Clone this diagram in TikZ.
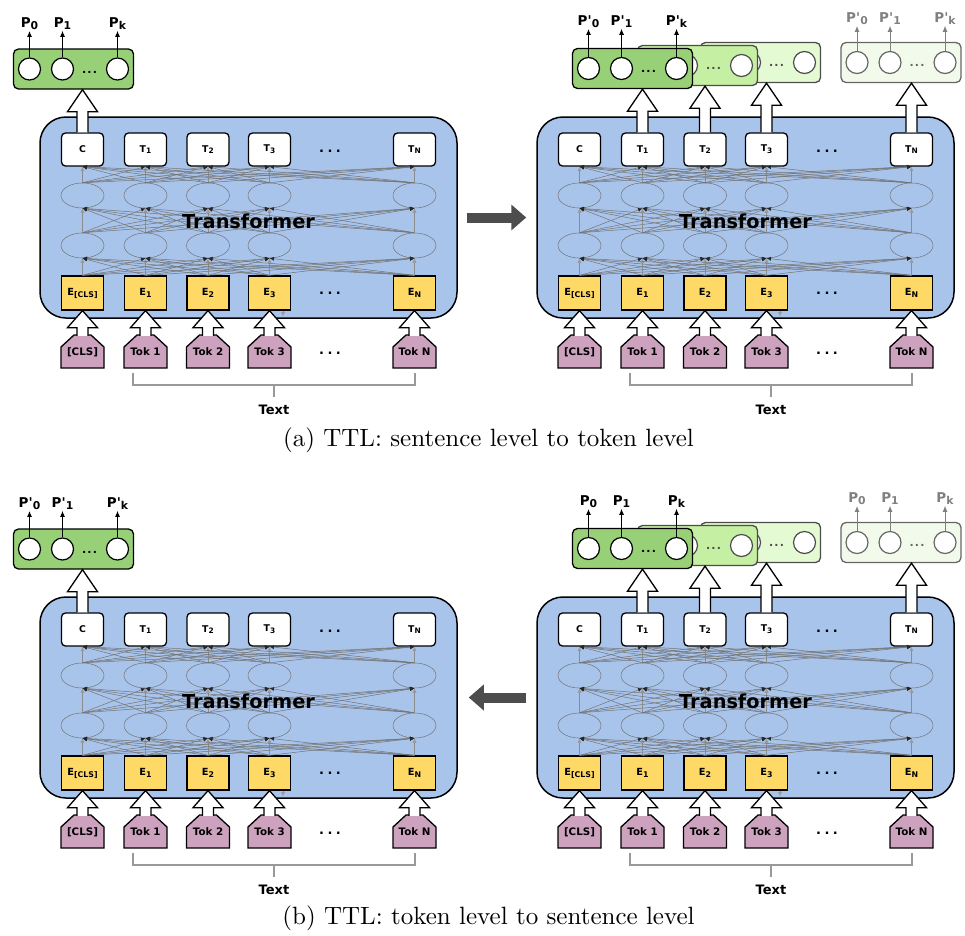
\documentclass[tikz,border=0pt]{standalone}
\usepackage{fontspec}
\usepackage{graphicx}
\usetikzlibrary{arrows.meta,shapes.geometric,calc}
\newfontfamily\dvb{DejaVu Sans Bold}
\newfontfamily\lmten{lmroman10-regular.otf}
\definecolor{tblue}{HTML}{A9C4EB}
\definecolor{tyel}{HTML}{FFD966}
\definecolor{tpink}{HTML}{CDA2BE}
\definecolor{gA}{HTML}{97D077}
\definecolor{gB}{HTML}{C5EFA3}
\definecolor{gC}{HTML}{E4FAD3}
\definecolor{gD}{HTML}{F2FBEB}
\definecolor{darr}{HTML}{4D4D4D}
\newcommand\sbx[1]{\raisebox{-0.35ex}{\scalebox{0.8}{#1}}}
\newcommand\rdot{.\hspace{3.5pt}.\hspace{3.5pt}.}
\newcommand\odts{.\hspace{1.2pt}.\hspace{1.2pt}.}
\tikzset{
 tbox/.style={draw=black, line width=1.5pt, fill=tblue, rounded corners=26pt, minimum width=417pt, minimum height=201pt, inner sep=0pt},
 tnode/.style={draw, line width=1.3pt, fill=white, rounded corners=4pt, minimum width=42pt, minimum height=33pt, inner sep=0pt, font=\dvb\fontsize{9.3}{10}\selectfont},
 enode/.style={draw, line width=1.3pt, fill=tyel, minimum width=42pt, minimum height=34pt, inner sep=0pt, font=\dvb\fontsize{9.8}{10}\selectfont},
 ell/.style={ellipse, draw=black!55, line width=0.5pt, minimum width=43pt, minimum height=25pt, inner sep=0pt},
 tok/.style={inner sep=0pt, minimum width=43pt, minimum height=32pt, font=\dvb\fontsize{10.3}{11}\selectfont},
 tokshape/.style={draw, line width=1.3pt, fill=tpink, line join=miter},
 conn/.style={draw=black!55, line width=0.5pt, -{Latex[length=4.5pt,width=4pt,color=black!85]}},
 vconn/.style={draw=black!45, line width=0.5pt, -{Latex[length=4.5pt,width=4pt,color=black!40]}},
 outbox/.style={draw, line width=1.3pt, rounded corners=5pt, minimum width=120pt, minimum height=40pt, inner sep=0pt},
 circ/.style={circle, draw, line width=1.2pt, fill=white, minimum size=22pt, inner sep=0pt},
 plabel/.style={font=\dvb\fontsize{13.5}{14}\selectfont, inner sep=1pt, anchor=base},
 parr/.style={line width=1pt, -{Latex[length=6pt,width=5pt]}},
 odots/.style={font=\dvb\fontsize{11}{12}\selectfont, anchor=base, inner sep=0pt},
 rdots/.style={font=\dvb\fontsize{13}{14}\selectfont, anchor=base, inner sep=0pt},
 tfont/.style={font=\dvb\fontsize{19.3}{20}\selectfont, anchor=base, inner sep=0pt},
 textlbl/.style={font=\dvb\fontsize{13}{14}\selectfont, anchor=base, inner sep=1pt},
 brk/.style={draw=black!40, line width=1.3pt},
 barrow/.style={draw=black, line width=1.3pt, line join=miter},
 bigarr/.style={draw=darr, line width=10pt, -{Triangle[length=15pt,width=25pt]}},
 captext/.style={font=\lmten\fontsize{25}{28}\selectfont, anchor=base, inner sep=0pt}
}
% block arrow: #1 tail anchor, #2 target (y of tip), #3 head length
\newcommand\blockarrow[3]{%
 \coordinate (ba-s) at (#1);
 \coordinate (ba-t) at (#1 |- #2);
 \fill[white] ($(ba-s)+(-5.5,0)$) -- ($(ba-t)+(-5.5,#3)$) -- ($(ba-t)+(-15,#3)$) -- (ba-t) -- ($(ba-t)+(15,#3)$) -- ($(ba-t)+(5.5,#3)$) -- ($(ba-s)+(5.5,0)$) -- cycle;
 \draw[barrow] ($(ba-s)+(-5.5,0)$) -- ($(ba-t)+(-5.5,#3)$) -- ($(ba-t)+(-15,#3)$) -- (ba-t) -- ($(ba-t)+(15,#3)$) -- ($(ba-t)+(5.5,#3)$) -- ($(ba-s)+(5.5,0)$);
}
% one column: prefix, index, x, top label, E label, token label
\newcommand\col[6]{%
 \node[tnode] (#1-t#2) at (#3,149.5) {#4};
 \node[ell] (#1-u#2) at (#3,195.5) {};
 \node[ell] (#1-l#2) at (#3,245.5) {};
 \node[enode] (#1-e#2) at (#3,293) {#5};
 \draw[tokshape] (#3-21.5,368) -- (#3-21.5,347) -- (#3-8.5,335) -- (#3+8.5,335) -- (#3+21.5,347) -- (#3+21.5,368) -- cycle;
 \node[tok] (#1-k#2) at (#3,352) {#6};
}
\newcommand\layer[3]{%
 \foreach \a in {0,...,4}{\foreach \b in {0,...,4}{%
  \ifnum\a=\b\relax \draw[vconn] (#1-#2\a.north) -- (#1-#3\b.south);
  \else \draw[conn] (#1-#2\a.north) -- (#1-#3\b.south); \fi}}%
}
\newcommand\transformer[1]{%
 \node[tbox] (#1-box) at (248.5,217.5) {};
 \col{#1}{0}{82.5}{C}{E\sbx{[CLS]}}{[CLS]}
 \col{#1}{1}{145.5}{T\sbx{1}}{E\sbx{1}}{Tok 1}
 \col{#1}{2}{208}{T\sbx{2}}{E\sbx{2}}{Tok 2}
 \col{#1}{3}{269.5}{T\sbx{3}}{E\sbx{3}}{Tok 3}
 \col{#1}{4}{414.5}{T\sbx{N}}{E\sbx{N}}{Tok N}
 \layer{#1}{e}{l}\layer{#1}{l}{u}\layer{#1}{u}{t}
 \coordinate (#1-m1) at (283,311); \coordinate (#1-m2) at (283,316.5);
 \draw[vconn] (#1-m1) -- (#1-m2);
 \node[rdots] (#1-d1) at (330,152.5) {\rdot};
 \node[rdots] (#1-d2) at (330,294.5) {\rdot};
 \node[rdots] (#1-d3) at (330,354.5) {\rdot};
 \node[tfont] (#1-tr) at (248.5,228) {Transformer};
 \foreach \i in {0,...,4}{\blockarrow{#1-k\i.north}{#1-e\i.south}{17}}
 \coordinate (#1-b1) at (133,373); \coordinate (#1-b2) at (415,373); \coordinate (#1-b3) at (274,385);
 \draw[brk] (#1-b1) -- ++(0,12) -| (#1-b2);
 \draw[brk] (#1-b3) -- ++(0,12);
 \node[textlbl] (#1-text) at (274,414) {Text};
}
% output box: name, cx, cy, fill, draw colour
\newcommand\obox[5]{%
 \node[outbox, fill=#4, draw=#5] (#1) at (#2,#3) {};
 \node[circ, draw=#5] (#1-c0) at (#2-44,#3) {};
 \node[circ, draw=#5] (#1-c1) at (#2-11,#3) {};
 \node[circ, draw=#5] (#1-c2) at (#2+44,#3) {};
 \node[odots, text=#5] (#1-d) at (#2+16,#3+4) {\odts};
}
% labels: name, cx, baseline, prime, colour
\newcommand\olabels[5]{%
 \node[plabel, text=#5] (#1-p0) at (#2-44,#3) {P#4\sbx{0}};
 \node[plabel, text=#5] (#1-p1) at (#2-11,#3) {P#4\sbx{1}};
 \node[plabel, text=#5] (#1-p2) at (#2+44,#3) {P#4\sbx{k}};
 \draw[parr, draw=#5] (#1-c0.north) -- (#1-p0.south);
 \draw[parr, draw=#5] (#1-c1.north) -- (#1-p1.south);
 \draw[parr, draw=#5] (#1-c2.north) -- (#1-p2.south);
}
\newcommand\outsent[2]{%
 \obox{#1-q1}{73.5}{69}{gA}{black}
 \olabels{#1-q1}{73.5}{27}{#2}{black}
 \blockarrow{#1-t0.north}{#1-q1.south}{22}
}
\newcommand\outtok[2]{%
 \obox{#1-q3}{263.5}{62.5}{gC}{black!70}
 \obox{#1-q2}{200.5}{65.5}{gB}{black!70}
 \obox{#1-q1}{135.5}{68.5}{gA}{black}
 \olabels{#1-q1}{135.5}{25}{#2}{black}
 \obox{#1-q4}{404}{62.5}{gD}{black!60}
 \olabels{#1-q4}{404}{22}{#2}{black!50}
 \blockarrow{#1-t1.north}{#1-q1.south}{22}
 \blockarrow{#1-t2.north}{#1-q2.south}{22}
 \blockarrow{#1-t3.north}{#1-q3.south}{22}
 \blockarrow{#1-t4.north}{#1-q4.south}{22}
}
\begin{document}
\begin{tikzpicture}[x=1pt,y=-1pt]
\useasboundingbox (0,0) rectangle (965,935);
\begin{scope}\transformer{A}\outsent{A}{}\end{scope}
\begin{scope}[shift={(497,0)}]\transformer{B}\outtok{B}{'}\end{scope}
\begin{scope}[shift={(0,480)}]\transformer{C}\outsent{C}{'}\end{scope}
\begin{scope}[shift={(497,480)}]\transformer{D}\outtok{D}{}\end{scope}
\draw[bigarr] ($(A-box.east)+(9,0)$) -- ($(B-box.west)+(-10,0)$);
\draw[bigarr] ($(D-box.west)+(-10,0)$) -- ($(C-box.east)+(11,0)$);
\node[captext] (capa) at (488.5,446) {(a) TTL: sentence level to token level};
\node[captext] (capb) at (488.5,924) {(b) TTL: token level to sentence level};
\end{tikzpicture}
\end{document}
